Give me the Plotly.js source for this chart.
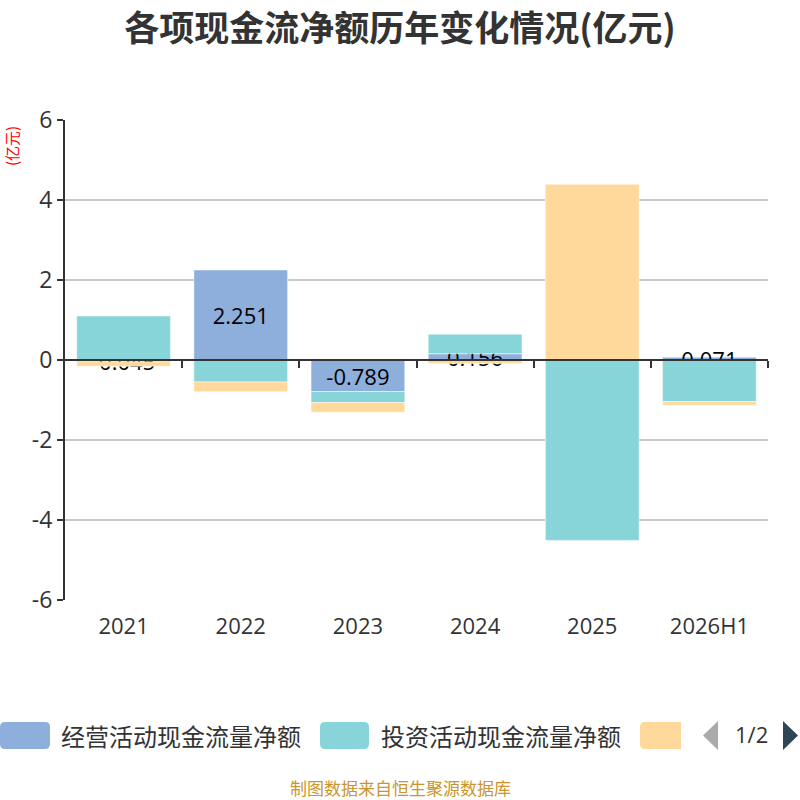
<!DOCTYPE html>
<html>
<head>
<meta charset="utf-8">
<script src="https://cdn.plot.ly/plotly-3.0.1.min.js"></script>
<style>html,body{margin:0;padding:0;background:#fff;}#chart{width:800px;height:800px;}</style>
</head>
<body>
<div id="chart"></div>
<script>
// ---- data ----
const years = ['2021', '2022', '2023', '2024', '2025', '2026H1'];
const operating = [-0.045, 2.251, -0.789, 0.156, 0.018, 0.071];
const investing = [1.10, -0.55, -0.275, 0.49, -4.51, -1.04];
const financing = [-0.11, -0.245, -0.24, -0.09, 4.375, -0.09];
const seriesNames = ['经营活动现金流量净额', '投资活动现金流量净额', '筹资活动现金流量净额'];
const yTicks = [-6, -4, -2, 0, 2, 4, 6];

const colors = ['#8eaedb', '#87d5d8', '#fed99b'];
const FONT = '"Open Sans", "Noto Sans CJK SC", sans-serif';
const CJK = '"Noto Sans CJK SC", "Noto Sans", sans-serif';

// geometry of plot area (px)
const L = 65, R = 768, T = 120, B = 600;
const px2x = px => (px - L) / (R - L);
const px2y = py => (B - py) / (B - T);

const barLine = {width: 1, color: 'rgba(255,255,255,0.5)'};
const traces = [
  {type: 'bar', name: seriesNames[0], x: years, y: operating,
   marker: {color: colors[0], line: barLine},
   text: operating.map(v => String(v)), textposition: 'inside',
   insidetextanchor: 'middle', constraintext: 'none', cliponaxis: false,
   textfont: {family: FONT, size: 22, color: '#000'}, hoverinfo: 'x+y+name'},
  {type: 'bar', name: seriesNames[1], x: years, y: investing,
   marker: {color: colors[1], line: barLine}, hoverinfo: 'x+y+name'},
  {type: 'bar', name: seriesNames[2], x: years, y: financing,
   marker: {color: colors[2], line: barLine}, hoverinfo: 'x+y+name'}
];

function roundRect(x0, y0, x1, y1, r, roundRight) {
  const X = px2x, Y = px2y;
  const rr = roundRight ? r : 0;
  return 'M' + X(x0 + r) + ',' + Y(y0) +
    ' L' + X(x1 - rr) + ',' + Y(y0) +
    (rr ? ' Q' + X(x1) + ',' + Y(y0) + ' ' + X(x1) + ',' + Y(y0 + rr) : '') +
    ' L' + X(x1) + ',' + Y(y1 - rr) +
    (rr ? ' Q' + X(x1) + ',' + Y(y1) + ' ' + X(x1 - rr) + ',' + Y(y1) : '') +
    ' L' + X(x0 + r) + ',' + Y(y1) +
    ' Q' + X(x0) + ',' + Y(y1) + ' ' + X(x0) + ',' + Y(y1 - r) +
    ' L' + X(x0) + ',' + Y(y0 + r) +
    ' Q' + X(x0) + ',' + Y(y0) + ' ' + X(x0 + r) + ',' + Y(y0) + ' Z';
}

const shapes = [
  {type: 'path', xref: 'paper', yref: 'paper', path: roundRect(0, 722, 50, 749, 5, true), fillcolor: colors[0], line: {width: 0}},
  {type: 'path', xref: 'paper', yref: 'paper', path: roundRect(320, 722, 369, 749, 5, true), fillcolor: colors[1], line: {width: 0}},
  {type: 'path', xref: 'paper', yref: 'paper', path: roundRect(640, 722, 681, 749, 5, false), fillcolor: colors[2], line: {width: 0}},
  {type: 'path', xref: 'paper', yref: 'paper',
   path: 'M' + px2x(718) + ',' + px2y(721) + ' L' + px2x(703) + ',' + px2y(735.5) + ' L' + px2x(718) + ',' + px2y(750) + ' Z',
   fillcolor: '#aaaaaa', line: {width: 0}},
  {type: 'path', xref: 'paper', yref: 'paper',
   path: 'M' + px2x(783) + ',' + px2y(721) + ' L' + px2x(798) + ',' + px2y(735.5) + ' L' + px2x(783) + ',' + px2y(750) + ' Z',
   fillcolor: '#2f4554', line: {width: 0}}
];

const annotations = [
  {xref: 'paper', yref: 'paper', x: px2x(59), y: px2y(735), xanchor: 'left', yanchor: 'middle',
   text: seriesNames[0], showarrow: false, font: {family: CJK, size: 24, color: '#333'}},
  {xref: 'paper', yref: 'paper', x: px2x(379), y: px2y(735), xanchor: 'left', yanchor: 'middle',
   text: seriesNames[1], showarrow: false, font: {family: CJK, size: 24, color: '#333'}},
  {xref: 'paper', yref: 'paper', x: px2x(751), y: px2y(734), xanchor: 'center', yanchor: 'middle',
   text: '1/2', showarrow: false, font: {family: FONT, size: 22, color: '#333'}},
  {xref: 'paper', yref: 'paper', x: px2x(400), y: px2y(787), xanchor: 'center', yanchor: 'middle',
   text: '制图数据来自恒生聚源数据库', showarrow: false, font: {family: CJK, size: 17, color: '#c9952f'}},
  {xref: 'paper', yref: 'paper', x: px2x(11), y: px2y(146), xanchor: 'center', yanchor: 'middle',
   text: '(亿元)', textangle: -90, showarrow: false, font: {family: CJK, size: 15, color: '#ff0000'}}
];

const layout = {
  width: 800, height: 800,
  margin: {l: L, r: 800 - R, t: T, b: 800 - B, pad: 0},
  paper_bgcolor: '#fff', plot_bgcolor: '#fff',
  showlegend: false,
  barmode: 'relative', bargap: 0.2,
  title: {text: '<b>各项现金流净额历年变化情况(亿元)</b>', x: 0.5, xref: 'container', xanchor: 'center',
          y: 1 - 29 / 800, yref: 'container', yanchor: 'middle',
          font: {family: CJK, size: 35, color: '#333'}},
  xaxis: {type: 'category', categoryorder: 'array', categoryarray: years,
          showline: false, showgrid: false, zeroline: false,
          ticks: 'outside', ticklen: 7, tickcolor: 'rgba(0,0,0,0)',
          tickfont: {family: FONT, size: 22, color: '#333'}},
  xaxis2: {overlaying: 'x', anchor: 'free', position: 0.5, type: 'linear',
           range: [-0.5, years.length - 0.5],
           tickvals: years.map((_, i) => i + 0.5),
           showticklabels: false, ticks: 'outside', ticklen: 7, tickwidth: 2, tickcolor: '#333',
           showline: true, linecolor: '#333', linewidth: 2, showgrid: false, zeroline: false},
  yaxis: {range: [-6, 6], tickvals: yTicks, ticktext: yTicks.map(String),
          showline: true, linecolor: '#333', linewidth: 2,
          ticks: 'outside', ticklen: 6, tickwidth: 2, tickcolor: '#333',
          showgrid: true, gridcolor: '#c8c8c8', gridwidth: 1.5, zeroline: false,
          tickfont: {family: FONT, size: 23, color: '#333'}},
  shapes: shapes,
  annotations: annotations
};

// dummy trace to activate xaxis2
traces.push({type: 'scatter', x: [], y: [], xaxis: 'x2', yaxis: 'y', hoverinfo: 'skip', showlegend: false});

Plotly.newPlot('chart', traces, layout, {displayModeBar: false, staticPlot: true});
</script>
</body>
</html>
